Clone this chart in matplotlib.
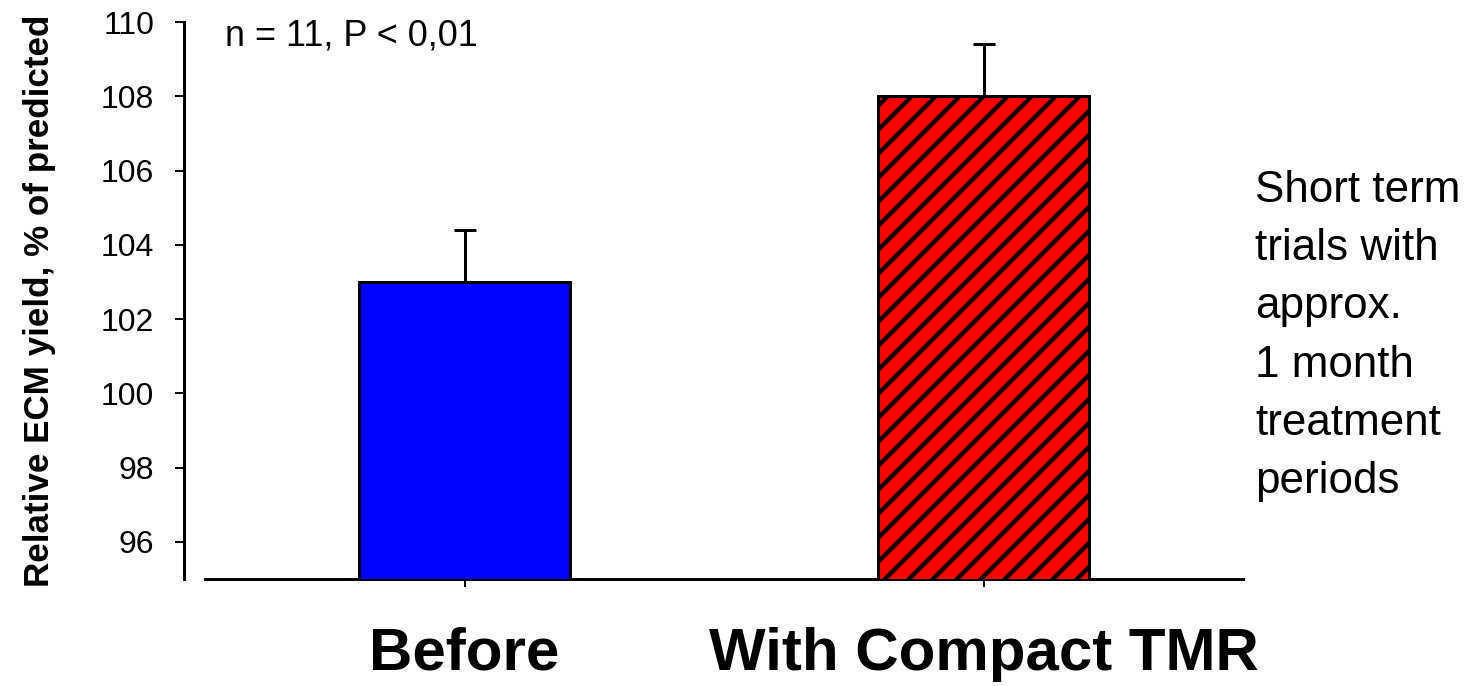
import matplotlib
matplotlib.use("Agg")
import matplotlib.pyplot as plt

# ---- data ----
categories = ["Before", "With Compact TMR"]
values = [103.0, 108.0]
errors_up = [1.4, 1.4]
bar_colors = ["#0000FF", "#FF0000"]
bar_hatches = ["", "/"]
y_ticks = [96, 98, 100, 102, 104, 106, 108, 110]
y_label = "Relative ECM yield, % of predicted"
stat_note = "n = 11, P < 0,01"
side_note = ["Short term", "trials with", "approx.", "1 month", "treatment", "periods"]

W, H, DPI = 1483, 686, 72
plt.rcParams["font.family"] = ["Liberation Sans", "DejaVu Sans"]
plt.rcParams["hatch.linewidth"] = 4.3
plt.rcParams["hatch.color"] = "black"

fig = plt.figure(figsize=(W / DPI, H / DPI), dpi=DPI)
ax = fig.add_axes([205 / W, 1 - 579 / H, (1243 - 205) / W, (579 - 22) / H])

x = list(range(len(categories)))
bars = ax.bar(x, values, width=0.405, color=bar_colors, edgecolor="black",
              linewidth=3, zorder=3)
for b, h in zip(bars, bar_hatches):
    b.set_hatch(h)
ax.errorbar(x, values, yerr=[[0] * len(values), errors_up], fmt="none",
            ecolor="black", elinewidth=3, capsize=11, capthick=3, zorder=2)

ax.set_xlim(-0.5, 1.5)
ax.set_ylim(95, 110)
ax.set_yticks(y_ticks)
ax.set_yticklabels([str(t) for t in y_ticks])
ax.tick_params(axis="y", direction="out", length=9, width=2, pad=21,
               labelsize=32)
ax.set_xticks(x)
ax.set_xticklabels(categories)
ax.tick_params(axis="x", direction="out", length=8, width=2, pad=40,
               labelsize=60)
for lab in ax.get_xticklabels():
    lab.set_fontweight("bold")

for s in ["top", "right"]:
    ax.spines[s].set_visible(False)
ax.spines["left"].set_position(("outward", 21))
ax.spines["left"].set_linewidth(3)
ax.spines["bottom"].set_linewidth(3)

fig.text(40 / W, 1 - 301 / H, y_label, rotation=90, ha="center", va="center",
         fontsize=35, fontweight="bold")
fig.text(225 / W, 1 - 45 / H, stat_note, ha="left", va="baseline", fontsize=36)
for i, line in enumerate(side_note):
    fig.text(1255 / W, 1 - (202 + i * 58.2) / H, line, ha="left",
             va="baseline", fontsize=44)

fig.savefig("out.png", dpi=DPI)
